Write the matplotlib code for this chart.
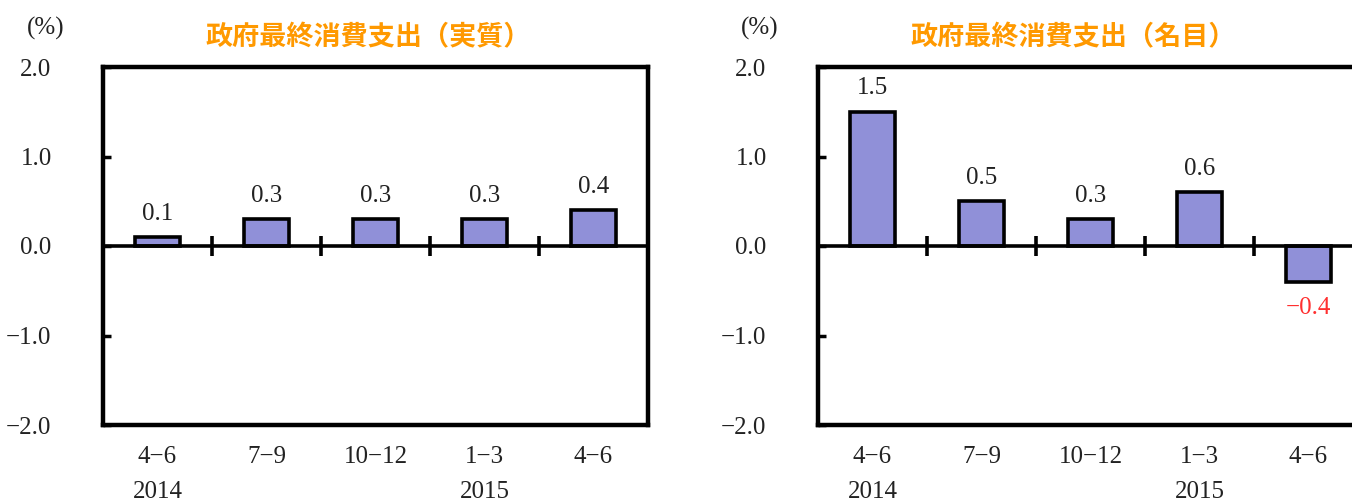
import matplotlib
matplotlib.use("Agg")
import matplotlib.pyplot as plt

plt.rcParams['font.family'] = ['Liberation Serif', 'DejaVu Serif']

quarters = ['4\u22126', '7\u22129', '10\u221212', '1\u22123', '4\u22126']
years = ['2014', '', '', '2015', '']
real_growth = [0.1, 0.3, 0.3, 0.3, 0.4]
nominal_growth = [1.5, 0.5, 0.3, 0.6, -0.4]
titles = ['政府最終消費支出（実質）', '政府最終消費支出（名目）']
yticks = [2.0, 1.0, 0.0, -1.0, -2.0]

BAR_COLOR = '#9090d8'
TITLE_COLOR = '#ff9900'
NEG_COLOR = '#ff3030'
TEXT_COLOR = '#222222'
FS = 18

fig = plt.figure(figsize=(13.52, 5.01), dpi=100)
W, H = 1352, 501


def fmt(v):
    return ('%.1f' % v).replace('-', '\u2212')


def px_axes(x0, y0, x1, y1):
    return fig.add_axes([x0 / W, 1 - y1 / H, (x1 - x0) / W, (y1 - y0) / H])


def draw_panel(ax, values):
    xs = range(len(values))
    ax.bar(xs, values, width=0.42, color=BAR_COLOR, edgecolor='black',
           linewidth=2.6, zorder=3)
    ax.set_xlim(-0.5, len(values) - 0.5)
    ax.set_ylim(-2.0, 2.0)
    ax.axhline(0, color='black', lw=2.6, zorder=4)
    # short marks on the zero line between the quarters
    ax.vlines([i + 0.5 for i in range(len(values) - 1)], -0.11, 0.11,
              color='black', lw=2.6, zorder=4)

    ax.set_yticks(yticks)
    ax.set_yticklabels([fmt(v) for v in yticks], fontsize=FS,
                       color=TEXT_COLOR)
    ax.tick_params(axis='y', direction='in', length=6, width=2.5, pad=37)
    ax.set_xticks(list(xs))
    ax.set_xticklabels([q + '\n' + y for q, y in zip(quarters, years)],
                       fontsize=FS, color=TEXT_COLOR, linespacing=1.75)
    ax.tick_params(axis='x', length=0, pad=15)
    for s in ax.spines.values():
        s.set_linewidth(3.2)

    for x, v in zip(xs, values):
        if v >= 0:
            ax.text(x, v + 0.14, fmt(v), ha='center', va='bottom',
                    fontsize=FS, color=TEXT_COLOR)
        else:
            ax.text(x, v - 0.17, fmt(v), ha='center', va='top',
                    fontsize=FS, color=NEG_COLOR)


ax1 = px_axes(103, 67, 648, 425)
ax2 = px_axes(818, 67, 1363, 425)
draw_panel(ax1, real_growth)
draw_panel(ax2, nominal_growth)

for title, tx, px in [(titles[0], 368, 46), (titles[1], 1073, 760)]:
    fig.text(tx / W, 1 - 37 / H, title, ha='center', va='center',
             fontsize=19.5, fontweight='bold', color=TITLE_COLOR,
             family=['Noto Sans CJK JP', 'DejaVu Sans'])
    fig.text(px / W, 1 - 28 / H, '(%)', ha='center', va='center',
             fontsize=FS, color=TEXT_COLOR)

fig.savefig('out.png', dpi=100)
